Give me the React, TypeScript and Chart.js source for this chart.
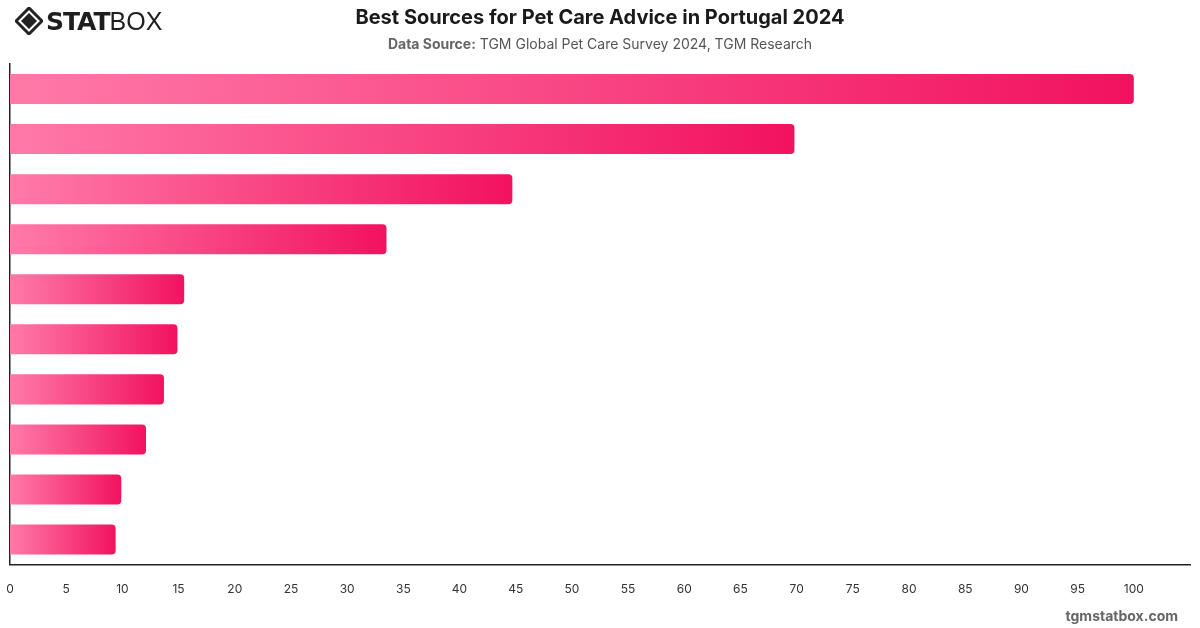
import React, { useEffect, useRef } from "react";
import { Chart, registerables } from "chart.js";

Chart.register(...registerables);

const categories = [
  "Veterinarians",
  "Internet search",
  "Family and friends",
  "Pet shops",
  "Social media",
  "Breeders",
  "Pet care websites",
  "Books and magazines",
  "TV programs",
  "Pet forums",
];
const values = [100, 69.8, 44.7, 33.5, 15.5, 14.9, 13.7, 12.1, 9.9, 9.4];
const xTicks = [0, 5, 10, 15, 20, 25, 30, 35, 40, 45, 50, 55, 60, 65, 70, 75, 80, 85, 90, 95, 100];

const TITLE = "Best Sources for Pet Care Advice in Portugal 2024";
const SOURCE_LABEL = "Data Source:";
const SOURCE_TEXT = " TGM Global Pet Care Survey 2024, TGM Research";
const WATERMARK = "tgmstatbox.com";

const FONT = "Inter, 'Noto Sans', Arial, sans-serif";

export default function App() {
  const ref = useRef<HTMLCanvasElement | null>(null);

  useEffect(() => {
    const canvas = ref.current;
    if (!canvas) return;
    const chart = new Chart(canvas, {
      type: "bar",
      data: {
        labels: categories,
        datasets: [
          {
            data: values,
            borderRadius: 4,
            barPercentage: 0.6,
            categoryPercentage: 1,
            backgroundColor: (ctx: any) => {
              const c = ctx.chart;
              const area = c.chartArea;
              if (!area || ctx.raw == null) return "#f5156a";
              const x0 = c.scales.x.getPixelForValue(0);
              const x1 = c.scales.x.getPixelForValue(ctx.raw);
              const g = c.ctx.createLinearGradient(x0, 0, Math.max(x1, x0 + 1), 0);
              g.addColorStop(0, "#ff7aa8");
              g.addColorStop(1, "#f2125f");
              return g;
            },
          },
        ],
      },
      options: {
        indexAxis: "y",
        animation: false,
        responsive: false,
        maintainAspectRatio: false,
        layout: { padding: { left: 10, right: 10, top: 64, bottom: 13 } },
        plugins: { legend: { display: false }, tooltip: { enabled: false }, title: { display: false } },
        scales: {
          x: {
            type: "linear",
            min: 0,
            max: 105,
            afterBuildTicks: (axis: any) => {
              axis.ticks = xTicks.map((v) => ({ value: v }));
            },
            afterFit: (axis: any) => {
              axis.paddingLeft = 0;
              axis.paddingRight = 0;
            },
            grid: { display: false, drawTicks: false },
            border: { display: true, color: "#222", width: 1.5 },
            ticks: {
              padding: 18,
              color: "#333",
              font: { family: FONT, size: 12 },
            },
          },
          y: {
            grid: { display: false, drawTicks: false },
            border: { display: true, color: "#222", width: 1.5 },
            ticks: { display: false },
            afterFit: (axis: any) => {
              axis.width = 0;
            },
          },
        },
      },
    });
    return () => chart.destroy();
  }, []);

  return (
    <div style={{ position: "fixed", left: 0, top: 0, width: 1200, height: 628, background: "#fff", fontFamily: FONT, overflow: "hidden" }}>
      <canvas ref={ref} width={1200} height={628} style={{ position: "absolute", left: 0, top: 0 }} />
      <div style={{ position: "absolute", left: 15, top: 7, height: 28, display: "flex", alignItems: "center" }}>
        <svg width="28" height="28" viewBox="0 0 28 28">
          <path d="M14 1 L27 14 L14 27 L1 14 Z" fill="none" stroke="#222" strokeWidth="3" />
          <path d="M14 6 L22 14 L14 22 L6 14 Z" fill="#222" />
        </svg>
        <span style={{ fontFamily: "'DejaVu Sans', Arial, sans-serif", fontWeight: 900, fontSize: 25, color: "#1e1e1e", letterSpacing: -1, marginLeft: 3 }}>STAT</span>
        <span style={{ fontFamily: "'Liberation Sans', Arial, sans-serif", fontWeight: 300, fontSize: 25, color: "#1e1e1e" }}>BOX</span>
      </div>
      <div style={{ position: "absolute", left: 0, width: 1200, top: 4, textAlign: "center", fontSize: 20, fontWeight: 700, color: "#1a1a1a", lineHeight: "26px" }}>
        {TITLE}
      </div>
      <div style={{ position: "absolute", left: 0, width: 1200, top: 35, textAlign: "center", fontSize: 14, color: "#555", lineHeight: "18px" }}>
        <b style={{ color: "#666" }}>{SOURCE_LABEL}</b>
        {SOURCE_TEXT}
      </div>
      <div style={{ position: "absolute", right: 22, top: 607, fontSize: 14, fontWeight: 700, color: "#666", lineHeight: "18px" }}>
        {WATERMARK}
      </div>
    </div>
  );
}
